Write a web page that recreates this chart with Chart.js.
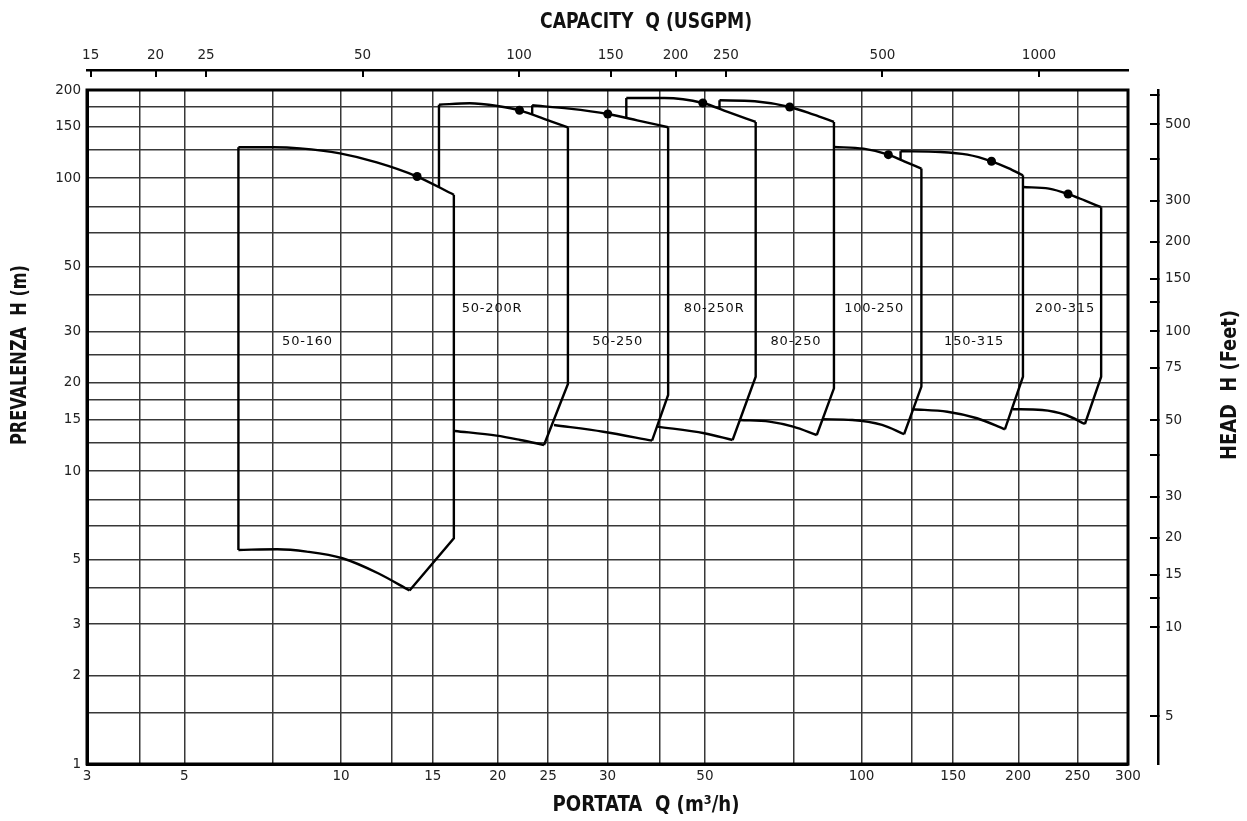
<!DOCTYPE html>
<html><head><meta charset="utf-8">
<script src="https://cdn.jsdelivr.net/npm/chart.js@4.4.1/dist/chart.umd.min.js"></script>
<style>html,body{margin:0;padding:0;background:#fff;overflow:hidden}#wrap{width:1247px;height:821px;position:relative}</style>
</head><body><div id="wrap"><canvas id="c"></canvas></div>
<script>
// ---- axis ticks (positions as drawn in the picture, and their texts) ----
const xGridPos  = [3.25, 4.1, 5, 7.4, 10, 12.5, 15, 20, 25, 32.5, 41, 50, 74, 100, 125, 150, 200, 260, 325];
const xGridText = ['3','','5','','10','','15','20','25','30','','50','','100','','150','200','250','300'];
const yGridPos  = [1,1.5,2,3,4,5,6.5,8,10,12.5,15,17.5,20,25,30,40,50,65,80,100,125,150,175,200];
const yGridText = ['1','','2','3','','5','','','10','','15','','20','','30','','50','','','100','','150','','200'];
const gpmTicks  = [15,20,25,50,100,150,200,250,500,1000];
const feetTickPos  = [5,10,12.5,15,20,27.5,38,50,75,100,125,150,200,275,380,500,625];
const feetTickText = ['5','10','','15','20','30','','50','75','100','','150','200','300','','500',''];

// ---- pump envelopes: [Q m3/h, H m] ----
const pumpNames = ['50-160','50-200R','50-250','80-250R','80-250','100-250','150-315','200-315'];
const pump_50_160 = {
  left:[[6.35,5.38],[6.35,127.5]],
  top:[[6.35,127.5],[7.41,127.5],[8.34,126.4],[9.95,121.5],[11.71,113.2],[14.0,101.3],[16.47,87.8]],
  right:[[16.47,87.8],[16.47,5.90],[13.54,3.91]],
  bottom:[[6.35,5.38],[7.54,5.41],[8.59,5.31],[10.06,5.04],[11.78,4.48],[13.54,3.91]]
};
const pump_50_200R = {
  left:[[15.42,93.0],[15.42,178.2]],
  top:[[15.42,178.2],[17.67,180.2],[20.11,176.0],[22.02,170.5],[25.31,156.4],[27.28,149.2]],
  right:[[27.28,149.2],[27.28,19.83],[24.54,12.28]],
  bottom:[[16.55,13.71],[19.90,13.21],[22.09,12.77],[24.54,12.28]]
};
const pump_50_250 = {
  left:[[23.29,164.7],[23.29,177.4]],
  top:[[23.29,177.4],[27.44,172.7],[32.54,165.6],[37.06,157.6],[42.5,149.2]],
  right:[[42.5,149.2],[42.5,18.19],[39.58,12.70]],
  bottom:[[25.65,14.37],[31.90,13.63],[39.58,12.70]]
};
const pump_80_250R = {
  left:[[35.32,160.6],[35.32,187.8]],
  top:[[35.32,187.8],[41.79,187.8],[49.55,180.6],[55.31,168.3],[62.6,155.6]],
  right:[[62.6,155.6],[62.6,21.0],[56.52,12.77]],
  bottom:[[40.55,14.19],[49.86,13.46],[56.52,12.77]]
};
const pump_80_250 = {
  left:[[53.34,172.3],[53.34,184.5]],
  top:[[53.34,184.5],[62.36,183.0],[72.77,175.0],[80.92,164.7],[88.5,155.6]],
  right:[[88.5,155.6],[88.5,19.17],[82.03,13.28]],
  bottom:[[58.4,14.94],[66.52,14.75],[73.87,14.18],[82.03,13.28]]
};
const pump_100_250 = {
  left:[],
  top:[[88.5,127.8],[100.86,126.1],[112.58,120.3],[120.74,114.2],[130.3,107.8]],
  right:[[130.3,107.8],[130.3,19.42],[120.68,13.36]],
  bottom:[[84.09,15.03],[96.02,14.94],[109.49,14.37],[120.68,13.36]]
};
const pump_150_315 = {
  left:[[118.83,115.6],[118.83,123.6]],
  top:[[118.83,123.6],[141.69,122.9],[159.78,120.3],[177.68,114.2],[191.37,108.3],[204.2,102.3]],
  right:[[204.2,102.3],[204.2,21.0],[188.51,13.89]],
  bottom:[[125.42,16.26],[146.15,15.95],[166.64,15.15],[188.51,13.89]]
};
const pump_200_315 = {
  left:[],
  top:[[204.2,93.3],[229.13,92.1],[249.29,88.3],[268.8,83.8],[288.6,79.6]],
  right:[[288.6,79.6],[288.6,21.0],[268.6,14.48]],
  bottom:[[195.39,16.26],[222.34,16.17],[247.09,15.54],[268.6,14.48]]
};
// best efficiency points
const bepQ = [14.0, 22.02, 32.54, 49.55, 72.77, 112.58, 177.68, 249.29];
const bepH = [101.3, 170.5, 165.6, 180.6, 175.0, 120.3, 114.2, 88.3];
// pump label anchors
const labelQ = [8.62, 19.5, 34.0, 52.1, 74.8, 105.7, 164.5, 246];
const labelH = [27.6, 35.8, 27.6, 35.8, 27.6, 35.8, 27.6, 35.8];

const pumps = [pump_50_160, pump_50_200R, pump_50_250, pump_80_250R, pump_80_250, pump_100_250, pump_150_315, pump_200_315];

const seg = (pts, smooth) => ({
  data: pts.map(p => ({x: p[0], y: p[1]})),
  showLine: true, borderColor: '#000', borderWidth: 2.4,
  pointRadius: 0, pointHoverRadius: 0, fill: false,
  tension: smooth ? 0.4 : 0,
  cubicInterpolationMode: smooth ? 'monotone' : 'default',
  xAxisID: 'x', yAxisID: 'y'
});
const datasets = [];
pumps.forEach(p => {
  if (p.left.length) datasets.push(seg(p.left, false));
  datasets.push(seg(p.right, false));
  datasets.push(seg(p.top, true));
  datasets.push(seg(p.bottom, true));
});
datasets.push({
  data: bepQ.map((q, i) => ({x: q, y: bepH[i]})),
  showLine: false, pointRadius: 4.5, pointBackgroundColor: '#000', pointBorderWidth: 0,
  xAxisID: 'x', yAxisID: 'y'
});

const tickFont = {family: '"DejaVu Sans", sans-serif', size: 13.5};
const gridCol = '#383838';

function drawTitle(ctx, text, cx, cy, rot, targetW) {
  ctx.save();
  ctx.translate(cx, cy);
  ctx.rotate(rot);
  ctx.font = 'bold 22px "Liberation Sans Narrow", "DejaVu Sans Condensed", "DejaVu Sans", sans-serif';
  const w = ctx.measureText(text).width;
  ctx.scale(targetW / w, 1);
  ctx.textAlign = 'center'; ctx.textBaseline = 'middle'; ctx.fillStyle = '#111';
  ctx.fillText(text, 0, 0);
  ctx.restore();
}

const overlay = {
  id: 'overlay',
  afterDatasetsDraw(chart) {
    const {ctx, chartArea: a, scales} = chart;
    ctx.save();
    ctx.strokeStyle = '#000'; ctx.lineWidth = 3;
    ctx.strokeRect(a.left, a.top, a.right - a.left, a.bottom - a.top);
    ctx.fillStyle = '#111';
    ctx.font = '13px "DejaVu Sans", sans-serif';
    if ('letterSpacing' in ctx) ctx.letterSpacing = '0.8px';
    ctx.textAlign = 'center'; ctx.textBaseline = 'middle';
    pumpNames.forEach((n, i) => {
      ctx.fillText(n, scales.x.getPixelForValue(labelQ[i]), scales.y.getPixelForValue(labelH[i]));
    });
    if ('letterSpacing' in ctx) ctx.letterSpacing = '0px';
    ctx.restore();
  },
  afterDraw(chart) {
    const ctx = chart.ctx;
    drawTitle(ctx, 'CAPACITY  Q (USGPM)', 646, 22, 0, 212);
    drawTitle(ctx, 'PORTATA  Q (m³/h)', 646, 805, 0, 187);
    drawTitle(ctx, 'PREVALENZA  H (m)', 20, 355, -Math.PI / 2, 180);
    drawTitle(ctx, 'HEAD  H (Feet)', 1230, 385, -Math.PI / 2, 150);
  }
};

new Chart(document.getElementById('c'), {
  type: 'scatter',
  data: {datasets},
  plugins: [overlay],
  options: {
    responsive: true, maintainAspectRatio: false, animation: false,
    layout: {padding: 0},
    plugins: {legend: {display: false}, tooltip: {enabled: false}},
    events: [],
    scales: {
      x: {
        type: 'logarithmic', position: 'bottom', min: 3.25, max: 325,
        afterBuildTicks: s => { s.ticks = xGridPos.map(v => ({value: v})); },
        afterFit: s => { s.height = 57; },
        ticks: {autoSkip: false, maxRotation: 0, minRotation: 0, padding: 4, font: tickFont, color: '#222',
                callback: (v, i) => xGridText[i]},
        grid: {color: gridCol, lineWidth: 1.5, drawTicks: false},
        border: {display: true, color: '#000', width: 3}
      },
      y: {
        type: 'logarithmic', position: 'left', min: 1, max: 200,
        afterBuildTicks: s => { s.ticks = yGridPos.map(v => ({value: v})); },
        afterFit: s => { s.width = 87; },
        ticks: {autoSkip: false, padding: 6, font: tickFont, color: '#222',
                callback: (v, i) => yGridText[i]},
        grid: {color: gridCol, lineWidth: 1.5, drawTicks: false},
        border: {display: true, color: '#000', width: 3}
      },
      tsp: {
        type: 'linear', axis: 'x', position: 'top', weight: 0, min: 0, max: 1,
        afterFit: s => { s.height = 20; },
        ticks: {display: false}, grid: {display: false}, border: {display: false}
      },
      gpm: {
        type: 'logarithmic', axis: 'x', position: 'top', weight: 1, min: 14.76, max: 1483,
        afterBuildTicks: s => { s.ticks = gpmTicks.map(v => ({value: v})); },
        afterFit: s => { s.height = 70; },
        ticks: {autoSkip: false, maxRotation: 0, minRotation: 0, padding: 13, font: tickFont, color: '#222',
                callback: (v, i) => String(gpmTicks[i])},
        grid: {display: true, drawOnChartArea: false, drawTicks: true, tickLength: -7, color: '#000', lineWidth: 2},
        border: {display: true, color: '#000', width: 2.5}
      },
      rsp: {
        type: 'linear', axis: 'y', position: 'right', weight: 0, min: 0, max: 1,
        afterFit: s => { s.width = 30; },
        ticks: {display: false}, grid: {display: false}, border: {display: false}
      },
      ft: {
        type: 'logarithmic', axis: 'y', position: 'right', weight: 1, min: 3.445, max: 652,
        afterBuildTicks: s => { s.ticks = feetTickPos.map(v => ({value: v})); },
        afterFit: s => { s.width = 89; },
        ticks: {autoSkip: false, padding: 15, font: tickFont, color: '#222',
                callback: (v, i) => feetTickText[i]},
        grid: {display: true, drawOnChartArea: false, drawTicks: true, tickLength: -8, color: '#000', lineWidth: 2},
        border: {display: true, color: '#000', width: 2.5}
      }
    }
  }
});
</script>
</body></html>
